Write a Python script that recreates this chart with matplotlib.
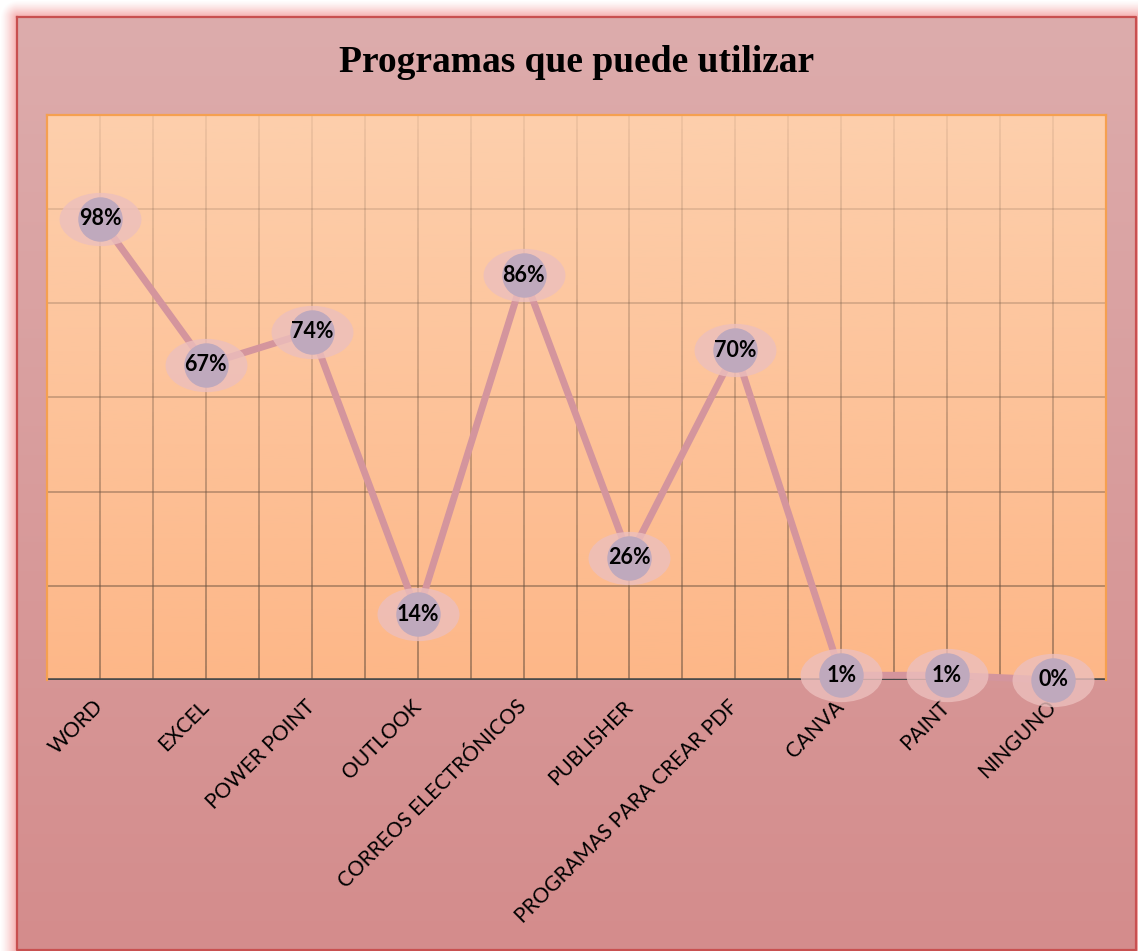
import numpy as np
import matplotlib.pyplot as plt
from matplotlib.path import Path
from matplotlib.collections import LineCollection
from matplotlib.transforms import Affine2D

# datos del gráfico
programas = ['WORD', 'EXCEL', 'POWER POINT', 'OUTLOOK', 'CORREOS ELECTRÓNICOS',
             'PUBLISHER', 'PROGRAMAS PARA CREAR PDF', 'CANVA', 'PAINT', 'NINGUNO']
porcentajes = [0.98, 0.67, 0.74, 0.14, 0.86, 0.26, 0.70, 0.01, 0.01, 0.00]
titulo = 'Programas que puede utilizar'

W, H = 1138, 951
fig = plt.figure(figsize=(W / 100, H / 100), dpi=100)
fig.patch.set_facecolor('white')

# fondo: degradado rosa con marco rojo y resplandor
bg = fig.add_axes([0, 0, 1, 1], zorder=-5)
bg.set_axis_off()
yy, xx = np.mgrid[0:H, 0:W].astype(float)
x0, x1, y0, y1 = 17, 1136, 17, 950
dx = np.maximum(np.maximum(x0 - xx, xx - x1), 0)
dy = np.maximum(np.maximum(y0 - yy, yy - y1), 0)
d = np.hypot(dx, dy)
t = ((yy - y0) / (y1 - y0)).clip(0, 1)[..., None]
top_c = np.array([221, 172, 172]) / 255
bot_c = np.array([212, 140, 140]) / 255
inner = top_c * (1 - t) + bot_c * t
glow = np.clip(1 - d / 17, 0, 1)[..., None] ** 1.3
pink = np.array([245, 170, 170]) / 255
outer = pink * glow + 1 * (1 - glow)
img = np.where((d > 0)[..., None], outer, inner)
bg.imshow(img, extent=[0, W, H, 0], aspect='auto', interpolation='nearest')
bg.plot([x0, x1, x1, x0, x0], [y0, y0, y1, y1, y0], color='#c85050', lw=1.6)
bg.set_xlim(0, W)
bg.set_ylim(H, 0)

# área del gráfico
L, R, T, B = 47, 1106, 115, 680
ax = fig.add_axes([L / W, 1 - B / H, (R - L) / W, (B - T) / H])
ax.set_facecolor('none')
n = len(programas)
x = np.arange(n)
ymax = 1.2

grad = np.linspace(0, 1, 256)[:, None, None]
c_top = np.array([253, 207, 172]) / 255
c_bot = np.array([253, 183, 136]) / 255
ax.imshow(c_top * (1 - grad) + c_bot * grad, extent=[-0.5, n - 0.5, 0, ymax],
          aspect='auto', zorder=0, origin='upper')

# cuadrícula que se oscurece hacia abajo
segs, cols = [], []
ylevels = np.linspace(0, ymax, 41)
for xv in np.arange(-0.5, n, 0.5):
    for a, b in zip(ylevels[:-1], ylevels[1:]):
        segs.append([(xv, a), (xv, b)])
        cols.append((0.42, 0.32, 0.25, 0.1 + 0.5 * (1 - (a + b) / 2 / ymax)))
for yv in np.arange(0.2, ymax, 0.2):
    segs.append([(-0.5, yv), (n - 0.5, yv)])
    cols.append((0.42, 0.32, 0.25, 0.1 + 0.5 * (1 - yv / ymax)))
ax.add_collection(LineCollection(segs, colors=cols, linewidths=1.3, zorder=1))

ax.set_xlim(-0.5, n - 0.5)
ax.set_ylim(0, ymax)
ax.axhline(0, color='#4a4a4a', lw=2.6, zorder=2)

# línea y marcadores
ax.plot(x, porcentajes, color='#d4959d', lw=5, zorder=3, clip_on=False,
        solid_capstyle='round')
elipse = Path.unit_circle().transformed(Affine2D().scale(1, 0.65))
ax.plot(x, porcentajes, ls='none', marker=elipse, markersize=59,
        markerfacecolor='#ecbfbd', markeredgewidth=0, alpha=0.8,
        zorder=4, clip_on=False)
ax.plot(x, porcentajes, ls='none', marker='o', markersize=32,
        markerfacecolor='#bfa9bd', markeredgewidth=0, zorder=5, clip_on=False)
for xi, v in zip(x, porcentajes):
    ax.text(xi, v, f'{v:.0%}', ha='center', va='center', fontsize=15.5,
            fontweight='bold', family='Lato', color='black', zorder=6)

ax.set_xticks(x)
ax.set_xticklabels(programas, rotation=45, ha='right', va='center',
                   rotation_mode='anchor', fontsize=15, family='Lato')
ax.set_yticks([])
ax.tick_params(axis='x', length=0, pad=17)
for s in ['left', 'right', 'top']:
    ax.spines[s].set_color('#f5a050')
    ax.spines[s].set_linewidth(1.6)
ax.spines['bottom'].set_visible(False)

fig.text((L + R) / 2 / W, 1 - 62 / H, titulo, ha='center', va='center',
         fontsize=27, fontweight='bold', family='Liberation Serif')

fig.savefig('out.png', dpi=100)
